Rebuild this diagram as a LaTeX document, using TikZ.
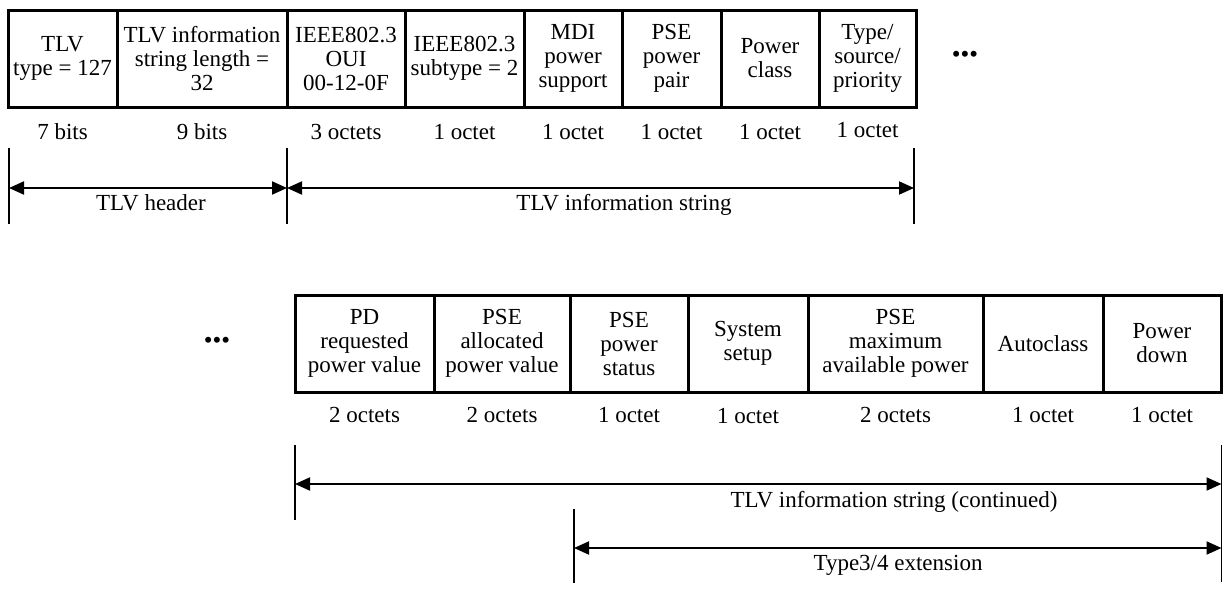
\documentclass[tikz,border=0pt]{standalone}
\usepackage{fontspec}
\setmainfont{Liberation Serif}
\usetikzlibrary{arrows.meta}
\tikzset{
  field/.style={draw=black, line width=3pt, rectangle, inner sep=0pt, minimum height=97pt, align=center, font=\fontsize{23}{24}\selectfont},
  sizelbl/.style={anchor=base, inner sep=0pt, font=\fontsize{23}{24}\selectfont},
  spanlbl/.style={anchor=base, inner sep=0pt, font=\fontsize{23}{24}\selectfont},
  tick/.style={line width=1.4pt},
  span/.style={line width=2pt, {Triangle[length=15pt,width=13pt]}-{Triangle[length=15pt,width=13pt]}},
  dots/.style={inner sep=0pt, font=\fontsize{25}{24}\selectfont}
}
\begin{document}
\begin{tikzpicture}[x=1pt, y=-1pt]
\useasboundingbox (0,0) rectangle (1225,600);
% ---- top row ----
\node[field, minimum width=109pt] (t1) at (62.5,58.5) {TLV\\type = 127};
\node[field, minimum width=170pt] (t2) at (202,58.5) {TLV information\\string length =\\32};
\node[field, minimum width=118pt] (t3) at (346,58.5) {IEEE802.3\\OUI\\00-12-0F};
\node[field, minimum width=119pt] (t4) at (464.5,58.5) {IEEE802.3\\subtype = 2};
\node[field, minimum width=98pt] (t5) at (573,58.5) {MDI\\power\\support};
\node[field, minimum width=99pt] (t6) at (671.5,58.5) {PSE\\power\\pair};
\node[field, minimum width=98pt] (t7) at (770,58.5) {Power\\class};
\node[field, minimum width=97pt] (t8) at (867.5,58.5) {Type/\\source/\\priority};
\node[dots] (d1) at (965,57) {•••};
% sizes
\node[sizelbl] (s1) at (62.5,139) {7 bits};
\node[sizelbl] (s2) at (202,139) {9 bits};
\node[sizelbl] (s3) at (346,139) {3 octets};
\node[sizelbl] (s4) at (464.5,139) {1 octet};
\node[sizelbl] (s5) at (573,139) {1 octet};
\node[sizelbl] (s6) at (671.5,139) {1 octet};
\node[sizelbl] (s7) at (770,139) {1 octet};
\node[sizelbl] (s8) at (867.5,137) {1 octet};
% spans
\coordinate (a1t) at (9,148);  \coordinate (a1b) at (9,224);
\coordinate (a2t) at (287,148); \coordinate (a2b) at (287,224);
\coordinate (a3t) at (914,148); \coordinate (a3b) at (914,224);
\draw[tick] (a1t) -- (a1b);
\draw[tick] (a2t) -- (a2b);
\draw[tick] (a3t) -- (a3b);
\coordinate (h1) at (9,188); \coordinate (h2) at (287,188); \coordinate (h3) at (914,188);
\draw[span] (h1) -- (h2);
\draw[span] (h2) -- (h3);
\node[spanlbl] (l1) at (151,210) {TLV header};
\node[spanlbl] (l2) at (624,210) {TLV information string};
% ---- bottom row ----
\node[dots] (d2) at (217,343) {•••};
\node[field, minimum width=139pt] (b1) at (364.5,343.5) {PD\\requested\\power value};
\node[field, minimum width=136pt] (b2) at (502,343.5) {PSE\\allocated\\power value};
\node[field, minimum width=118pt] (b3) at (629,343.5) {PSE\\power\\status};
\node[field, minimum width=120pt] (b4) at (748,343.5) {System\\setup};
\node[field, minimum width=175pt] (b5) at (895.5,343.5) {PSE\\maximum\\available power};
\node[field, minimum width=120pt] (b6) at (1043,343.5) {Autoclass};
\node[field, minimum width=118pt] (b7) at (1162,343.5) {Power\\down};
% sizes
\node[sizelbl] (c1) at (364.5,422) {2 octets};
\node[sizelbl] (c2) at (502,422) {2 octets};
\node[sizelbl] (c3) at (629,422) {1 octet};
\node[sizelbl] (c4) at (748,423) {1 octet};
\node[sizelbl] (c5) at (895.5,422) {2 octets};
\node[sizelbl] (c6) at (1043,422) {1 octet};
\node[sizelbl] (c7) at (1162,422) {1 octet};
% spans
\coordinate (e1t) at (295,445); \coordinate (e1b) at (295,520);
\coordinate (e2t) at (574,509); \coordinate (e2b) at (574,583);
\coordinate (e3t) at (1221.5,445); \coordinate (e3b) at (1221.5,582);
\draw[tick] (e1t) -- (e1b);
\draw[tick] (e2t) -- (e2b);
\draw[tick] (e3t) -- (e3b);
\coordinate (g1) at (295,484); \coordinate (g2) at (1221.5,484);
\coordinate (g3) at (574,548); \coordinate (g4) at (1221.5,548);
\draw[span] (g1) -- (g2);
\draw[span] (g3) -- (g4);
\node[spanlbl] (m1) at (894,507) {TLV information string (continued)};
\node[spanlbl] (m2) at (898,570) {Type3/4 extension};
\end{tikzpicture}
\end{document}
